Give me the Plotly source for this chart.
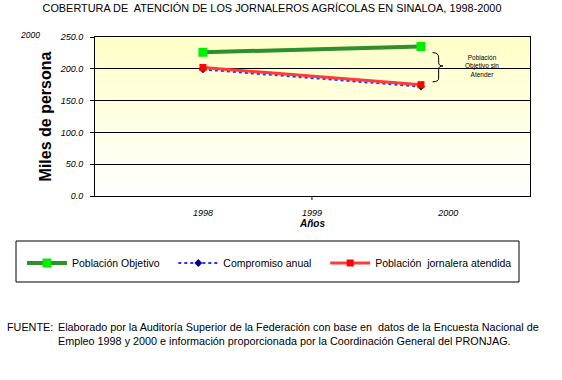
import plotly.graph_objects as go

years = [1998, 2000]
poblacion_objetivo = [226, 235]
compromiso_anual = [199, 172]
poblacion_atendida = [202, 175]
tick_labels = ["1998", "1999", "2000"]
tick_positions = [1998, 1999, 2000.25]
series_names = ["Población Objetivo", "Compromiso anual", "Población  jornalera atendida"]

FONT = "Liberation Sans, Arial, sans-serif"
NB = "\u00a0"

fig = go.Figure()
fig.add_trace(go.Scatter(
    x=years, y=poblacion_objetivo, name=series_names[0] + NB * 3, mode="lines+markers",
    line=dict(color="#2f8f2f", width=4),
    marker=dict(symbol="square", size=9, color="#00ee00"),
))
fig.add_trace(go.Scatter(
    x=years, y=compromiso_anual, name=series_names[1] + NB * 3, mode="lines+markers",
    line=dict(color="#2233ff", width=2, dash="dot"),
    marker=dict(symbol="diamond", size=6, color=["#000080", "#111111"]),
))
fig.add_trace(go.Scatter(
    x=years, y=poblacion_atendida, name=series_names[2], mode="lines+markers",
    line=dict(color="#ff3a3a", width=3),
    marker=dict(symbol="square", size=7, color="#ff0000"),
))

# gradient background (pale yellow top -> white bottom)
n = 30
shapes = []
for i in range(n):
    t = i / (n - 1)
    b = int(round(200 + (253 - 200) * (1 - t)))
    shapes.append(dict(type="rect", xref="paper", yref="paper",
                       x0=0, x1=1, y0=i / n, y1=(i + 1) / n + 0.001,
                       fillcolor=f"rgb(255,255,{b})", line=dict(width=0), layer="below"))
# single x tick at 1999
shapes.append(dict(type="line", xref="x", yref="paper", x0=1999, x1=1999,
                   y0=0, y1=-0.025, line=dict(color="black", width=1)))
# curly brace
shapes.append(dict(type="path", xref="paper", yref="paper",
                   path="M 0.776 0.902 Q 0.790 0.902 0.790 0.87 L 0.790 0.838 Q 0.790 0.818 0.800 0.818 "
                        "Q 0.790 0.818 0.790 0.798 L 0.790 0.742 Q 0.790 0.718 0.776 0.718",
                   line=dict(color="black", width=1)))
# legend frame
shapes.append(dict(type="rect", xref="paper", yref="paper",
                   x0=(16 - 95) / 435, x1=(519 - 95) / 435,
                   y0=-(282 - 196) / 159, y1=-(241 - 196) / 159,
                   line=dict(color="black", width=1), fillcolor="rgba(0,0,0,0)"))
fig.update_layout(shapes=shapes)

fig.update_layout(
    width=562, height=380,
    margin=dict(l=95, r=32, t=37, b=184, autoexpand=False),
    paper_bgcolor="white", plot_bgcolor="white",
    font=dict(family=FONT, size=9, color="black"),
    title=dict(text="COBERTURA DE  ATENCIÓN DE LOS JORNALEROS AGRÍCOLAS EN SINALOA, 1998-2000",
               x=272 / 562, xref="container", xanchor="center", y=1 - 8.5 / 380, yref="container",
               yanchor="middle", font=dict(size=10.9)),
    xaxis=dict(range=[1997.01, 2001.0], tickvals=tick_positions, ticktext=tick_labels,
               showgrid=False, zeroline=False, showline=True, linecolor="black", linewidth=1,
               mirror=True, ticks="", tickfont=dict(size=9, style="italic"), automargin=False,
               ticklabelstandoff=8,
               title=dict(text="<b><i>Años</i></b>", font=dict(size=10), standoff=2)),
    yaxis=dict(range=[0, 250], dtick=50, tickformat=".1f", automargin=False,
               showgrid=True, gridcolor="black", gridwidth=1, zeroline=False,
               showline=True, linecolor="black", linewidth=1, mirror=True,
               ticks="outside", ticklen=4, tickcolor="black", ticklabelstandoff=5,
               tickfont=dict(size=9, style="italic"),
               title=dict(text="<b>Miles de persona</b>", font=dict(size=16), standoff=4)),
    legend=dict(orientation="h", x=(22 - 95) / 435, y=-(263 - 196) / 159,
                xanchor="left", yanchor="middle",
                borderwidth=0, bgcolor="rgba(0,0,0,0)",
                font=dict(size=10.5), itemwidth=40),
    showlegend=True,
)

fig.add_annotation(text="<i>2000</i>", xref="paper", yref="paper", x=(30 - 95) / 435, y=1.015,
                   showarrow=False, xanchor="center", yanchor="middle", font=dict(size=8.5))
fig.add_annotation(text="Población<br>Objetivo sin<br>Atender", xref="paper", yref="paper",
                   x=0.89, y=0.82, showarrow=False, xanchor="center", yanchor="middle",
                   font=dict(size=6.5))
fig.add_annotation(text="FUENTE:", xref="paper", yref="paper", x=(5 - 95) / 435, y=-(319 - 196) / 159,
                   showarrow=False, xanchor="left", yanchor="top", align="left", font=dict(size=10.8))
fig.add_annotation(text="Elaborado por la Auditoría Superior de la Federación con base en  datos de la Encuesta Nacional de<br>"
                        "Empleo 1998 y 2000 e información proporcionada por la Coordinación General del PRONJAG.",
                   xref="paper", yref="paper", x=(56 - 95) / 435, y=-(319 - 196) / 159,
                   showarrow=False, xanchor="left", yanchor="top", align="left", font=dict(size=10.8))

fig.write_html("out.html", config={"displayModeBar": False},
               post_script="document.body.style.margin='0';")
